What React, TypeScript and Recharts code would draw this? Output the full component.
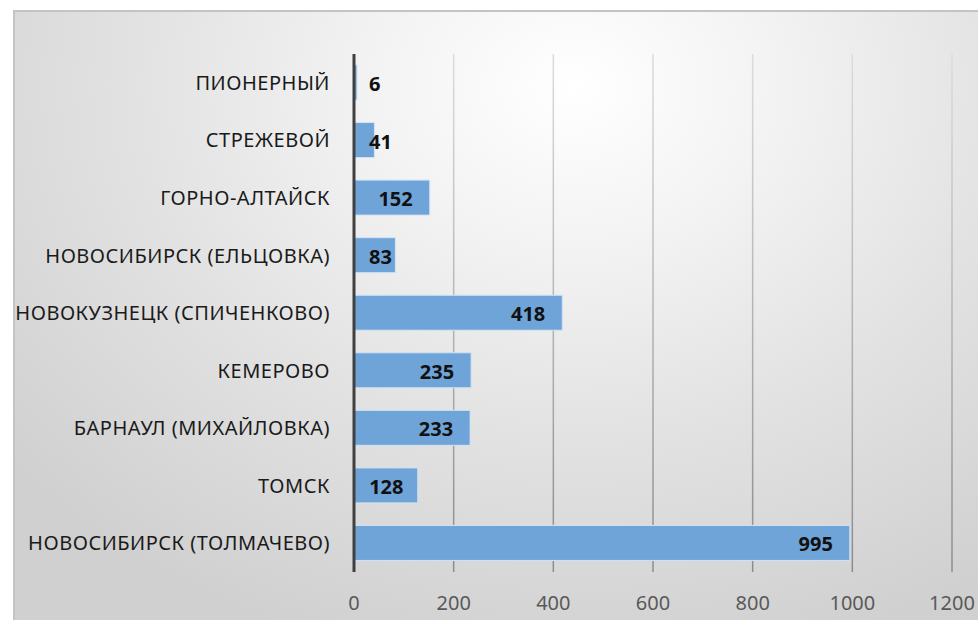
import { BarChart, Bar, XAxis, YAxis, CartesianGrid, LabelList } from 'recharts';

const airports = [
  'ПИОНЕРНЫЙ',
  'СТРЕЖЕВОЙ',
  'ГОРНО-АЛТАЙСК',
  'НОВОСИБИРСК (ЕЛЬЦОВКА)',
  'НОВОКУЗНЕЦК (СПИЧЕНКОВО)',
  'КЕМЕРОВО',
  'БАРНАУЛ (МИХАЙЛОВКА)',
  'ТОМСК',
  'НОВОСИБИРСК (ТОЛМАЧЕВО)',
];
const values = [6, 41, 152, 83, 418, 235, 233, 128, 995];
const xTicks = [0, 200, 400, 600, 800, 1000, 1200];

const data = airports.map((name, i) => ({ name, value: values[i] }));

const FONT = '"Noto Sans", "DejaVu Sans", sans-serif';

// Excel-style "inside end" label, pushed out past the axis when the bar is too short
function ValueLabel(props: any) {
  const { x, y, width, height, value } = props;
  const textW = String(value).length * 11.5;
  const right = Math.max(x + width - 17, x + 15 + textW);
  return (
    <text
      x={right}
      y={y + height / 2 + 1}
      textAnchor="end"
      dominantBaseline="central"
      fontFamily={FONT}
      fontWeight="bold"
      fontSize={20}
      fill="#111"
    >
      {value}
    </text>
  );
}

export default function App() {
  return (
    <div style={{ position: 'absolute', left: 0, top: 0, width: 978, height: 620, background: '#fff', overflow: 'hidden' }}>
      <div
        style={{
          position: 'absolute',
          left: 13,
          top: 10,
          width: 980,
          height: 620,
          borderTop: '2px solid #c4c4c4',
          borderLeft: '2px solid #c4c4c4',
          background:
            'radial-gradient(ellipse 75% 95% at 57% 12%, #ffffff 0%, #f4f4f4 25%, #e2e2e2 60%, #d0d0d0 100%)',
        }}
      />
      <div style={{ position: 'absolute', left: 0, top: 0 }}>
        <BarChart
          width={978}
          height={620}
          data={data}
          layout="vertical"
          margin={{ top: 54, right: 26, bottom: 0, left: 0 }}
        >
          <defs>
            <linearGradient id="gridFade" gradientUnits="userSpaceOnUse" x1="0" y1="54" x2="0" y2="572">
              <stop offset="0%" stopColor="#dcdcdc" />
              <stop offset="100%" stopColor="#8c8c8c" />
            </linearGradient>
          </defs>
          <CartesianGrid horizontal={false} stroke="url(#gridFade)" strokeWidth={1.5} />
          <XAxis
            type="number"
            domain={[0, 1200]}
            ticks={xTicks}
            axisLine={false}
            tickLine={false}
            height={48}
            tickMargin={18}
            interval={0}
            tick={{ fontSize: 20, fill: '#595959', fontFamily: FONT }}
          />
          <YAxis
            type="category"
            dataKey="name"
            width={354}
            axisLine={{ stroke: '#404040', strokeWidth: 3 }}
            tickLine={false}
            tickMargin={18}
            interval={0}
            tick={{ fontSize: 20, fill: '#1a1a1a', fontFamily: FONT, letterSpacing: 0.5 }}
          />
          <Bar
            dataKey="value"
            fill="#6fa4d8"
            stroke="#d3e3f4"
            strokeWidth={1}
            barSize={35}
            isAnimationActive={false}
          >
            <LabelList dataKey="value" content={<ValueLabel />} />
          </Bar>
        </BarChart>
      </div>
    </div>
  );
}
